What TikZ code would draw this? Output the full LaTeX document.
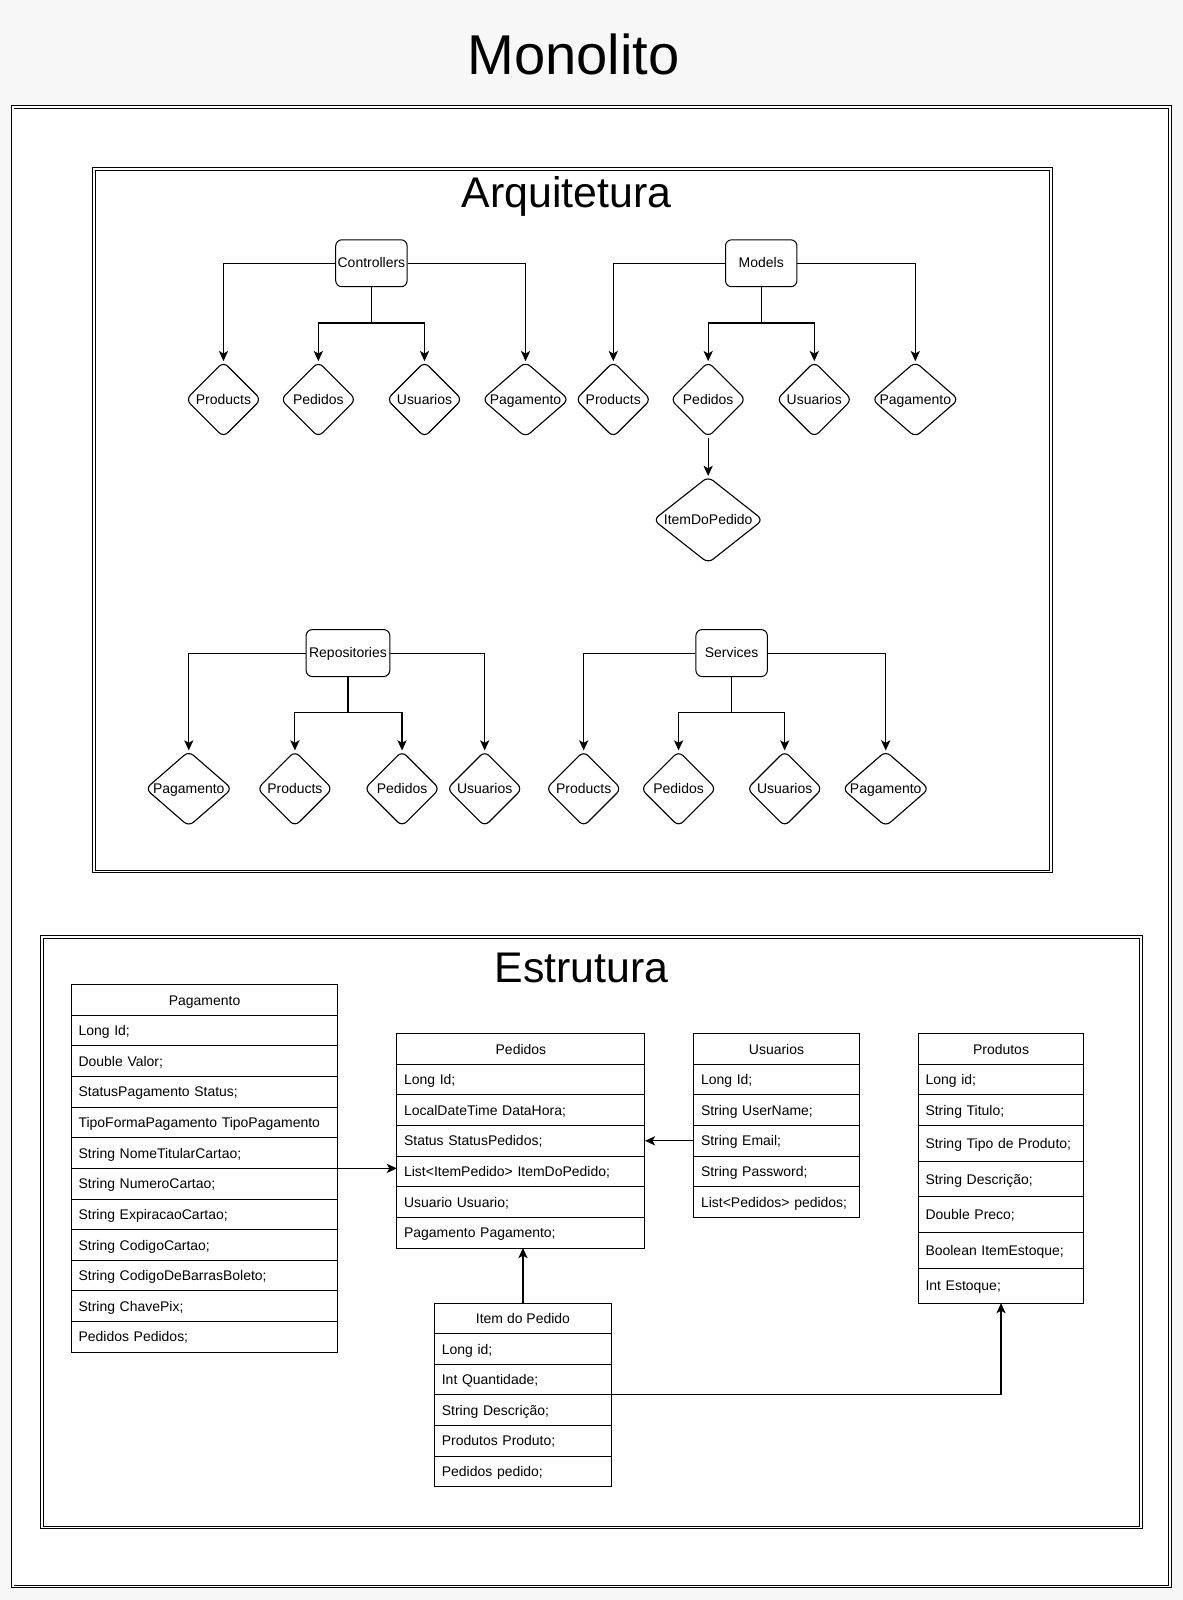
\documentclass[tikz,border=0pt]{standalone}
\usepackage{fontspec}
\setmainfont{Liberation Sans}
\usetikzlibrary{arrows.meta,positioning,shapes.geometric}
\definecolor{pagegray}{HTML}{F7F7F7}

\begin{document}
\begin{tikzpicture}
%defines
  [x=1pt,y=-1pt,
every node/.style={font=\fontsize{13.7}{16}\selectfont},
layer/.style={rectangle,draw,rounded corners=6pt,line width=1pt,
inner sep=1pt,minimum width=70pt,minimum height=46pt,text height=11pt,text depth=2pt},
entity/.style={diamond,draw,rounded corners=6pt,line width=1.1pt,
inner sep=0pt,minimum width=74pt,minimum height=74pt,text height=11pt,text depth=2pt},
frame/.style={draw=black,double=white,line width=0.9pt,double distance=1.8pt},
head/.style={rectangle,draw,line width=0.9pt,outer sep=0pt,inner sep=0pt,
minimum height=30pt,text height=12pt,text depth=2pt},
field/.style={head,text width=#1,inner xsep=7pt,align=left},
post/.style={-{Stealth[length=10pt,width=9pt,inset=2.5pt]},line width=1.1pt}]

% background and frames
\fill[pagegray] (0,0) rectangle (1159,1568);
\useasboundingbox (0,0) rectangle (1159,1568);
\draw[frame,fill=white] (12.4,104.8) rectangle (1146.3,1554.8);
\draw[frame] (92,165.6) rectangle (1029.7,854);
\draw[frame] (40.9,918) rectangle (1118,1497);

\node[font=\fontsize{55}{60}\selectfont] (monolito) at (562,53) {Monolito};
\node[font=\fontsize{42}{46}\selectfont] (arq) at (555,192) {Arquitetura};
\node[font=\fontsize{42}{46}\selectfont] (estr) at (570,949) {Estrutura};

% Arquitetura
\node[layer] (ctrl) at (364,258) {Controllers};
\node[entity] (cprod) at (219,391.5) {Products};
\node[entity] (cped) at (312,391.5) {Pedidos};
\node[entity] (cusu) at (416,391.5) {Usuarios};
\node[entity,aspect=1.15] (cpag) at (515,391.5) {Pagamento};
\draw[post] (ctrl.west) -| (cprod.north);
\draw[post] (ctrl.east) -| (cpag.north);
\draw[post] (ctrl.south) -- ++(0,35) -| (cped.north);
\draw[post] (ctrl.south) -- ++(0,35) -| (cusu.north);

\node[layer] (model) at (746,258) {Models};
\node[entity] (mprod) at (601,391.5) {Products};
\node[entity] (mped) at (694,391.5) {Pedidos};
\node[entity] (musu) at (798,391.5) {Usuarios};
\node[entity,aspect=1.15] (mpag) at (897,391.5) {Pagamento};
\node[entity,aspect=1.6,minimum height=85pt] (mitem) at (694,509.5) {ItemDoPedido};
\draw[post] (model.west) -| (mprod.north);
\draw[post] (model.east) -| (mpag.north);
\draw[post] (model.south) -- ++(0,35) -| (mped.north);
\draw[post] (model.south) -- ++(0,35) -| (musu.north);
\draw[post] (mped.south) -- (mitem.north);

\node[layer,minimum width=82pt] (repo) at (341,640) {Repositories};
\node[entity,aspect=1.15] (rpag) at (185,773) {Pagamento};
\node[entity] (rprod) at (289,773) {Products};
\node[entity] (rped) at (394,773) {Pedidos};
\node[entity] (rusu) at (475,773) {Usuarios};
\draw[post] (repo.west) -| (rpag.north);
\draw[post] (repo.east) -| (rusu.north);
\draw[post] (repo.south) -- ++(0,35) -| (rprod.north);
\draw[post] (repo.south) -- ++(0,35) -| (rped.north);

\node[layer] (serv) at (717,640) {Services};
\node[entity] (sprod) at (572,773) {Products};
\node[entity] (sped) at (665,773) {Pedidos};
\node[entity] (susu) at (769,773) {Usuarios};
\node[entity,aspect=1.15] (spag) at (868,773) {Pagamento};
\draw[post] (serv.west) -| (sprod.north);
\draw[post] (serv.east) -| (spag.north);
\draw[post] (serv.south) -- ++(0,35) -| (sped.north);
\draw[post] (serv.south) -- ++(0,35) -| (susu.north);

% Estrutura
\node[head,minimum width=261pt] (pghead) at (200.5,980) {Pagamento};
\node[field=247pt,below=0pt of pghead] (pgid) {Long Id;};
\node[field=247pt,below=0pt of pgid] (pgvalor) {Double Valor;};
\node[field=247pt,below=0pt of pgvalor] (pgstatus) {StatusPagamento Status;};
\node[field=247pt,below=0pt of pgstatus] (pgtipo) {TipoFormaPagamento TipoPagamento};
\node[field=247pt,below=0pt of pgtipo] (pgnome) {String NomeTitularCartao;};
\node[field=247pt,below=0pt of pgnome] (pgnum) {String NumeroCartao;};
\node[field=247pt,below=0pt of pgnum] (pgexp) {String ExpiracaoCartao;};
\node[field=247pt,below=0pt of pgexp] (pgcod) {String CodigoCartao;};
\node[field=247pt,below=0pt of pgcod] (pgbar) {String CodigoDeBarrasBoleto;};
\node[field=247pt,below=0pt of pgbar] (pgpix) {String ChavePix;};
\node[field=247pt,below=0pt of pgpix] (pgped) {Pedidos Pedidos;};

\node[head,minimum width=243pt] (pdhead) at (510.5,1028) {Pedidos};
\node[field=229pt,below=0pt of pdhead] (pdid) {Long Id;};
\node[field=229pt,below=0pt of pdid] (pddata) {LocalDateTime DataHora;};
\node[field=229pt,below=0pt of pddata] (pdstatus) {Status StatusPedidos;};
\node[field=229pt,below=0pt of pdstatus] (pdlist) {List<ItemPedido> ItemDoPedido;};
\node[field=229pt,below=0pt of pdlist] (pdusu) {Usuario Usuario;};
\node[field=229pt,below=0pt of pdusu] (pdpag) {Pagamento Pagamento;};

\node[head,minimum width=162pt] (ushead) at (761,1028) {Usuarios};
\node[field=148pt,below=0pt of ushead] (usid) {Long Id;};
\node[field=148pt,below=0pt of usid] (usname) {String UserName;};
\node[field=148pt,below=0pt of usname] (usemail) {String Email;};
\node[field=148pt,below=0pt of usemail] (uspass) {String Password;};
\node[field=148pt,below=0pt of uspass] (uslist) {List<Pedidos> pedidos;};

\node[head,minimum width=162pt] (prhead) at (981,1028) {Produtos};
\node[field=148pt,below=0pt of prhead] (prid) {Long id;};
\node[field=148pt,below=0pt of prid] (prtit) {String Titulo;};
\node[field=148pt,minimum height=35pt,below=0pt of prtit] (prtipo) {String Tipo de Produto;};
\node[field=148pt,minimum height=35pt,below=0pt of prtipo] (prdesc) {String Descrição;};
\node[field=148pt,minimum height=35pt,below=0pt of prdesc] (prpreco) {Double Preco;};
\node[field=148pt,minimum height=35pt,below=0pt of prpreco] (pritem) {Boolean ItemEstoque;};
\node[field=148pt,minimum height=34pt,below=0pt of pritem] (prestq) {Int Estoque;};

\node[head,minimum width=173pt] (ithead) at (512.5,1292) {Item do Pedido};
\node[field=159pt,below=0pt of ithead] (itid) {Long id;};
\node[field=159pt,below=0pt of itid] (itqtd) {Int Quantidade;};
\node[field=159pt,below=0pt of itqtd] (itdesc) {String Descrição;};
\node[field=159pt,below=0pt of itdesc] (itprod) {Produtos Produto;};
\node[field=159pt,below=0pt of itprod] (itped) {Pedidos pedido;};

\draw[post] (pgnome.south east) -- (pgnome.south east -| pdlist.west);
\draw[post] (usemail.west) -- (pdstatus.east);
\draw[post] (ithead.north) -- (ithead.north |- pdpag.south);
\draw[post] (itqtd.south east) -| (prestq.south);
\end{tikzpicture}
\end{document}
